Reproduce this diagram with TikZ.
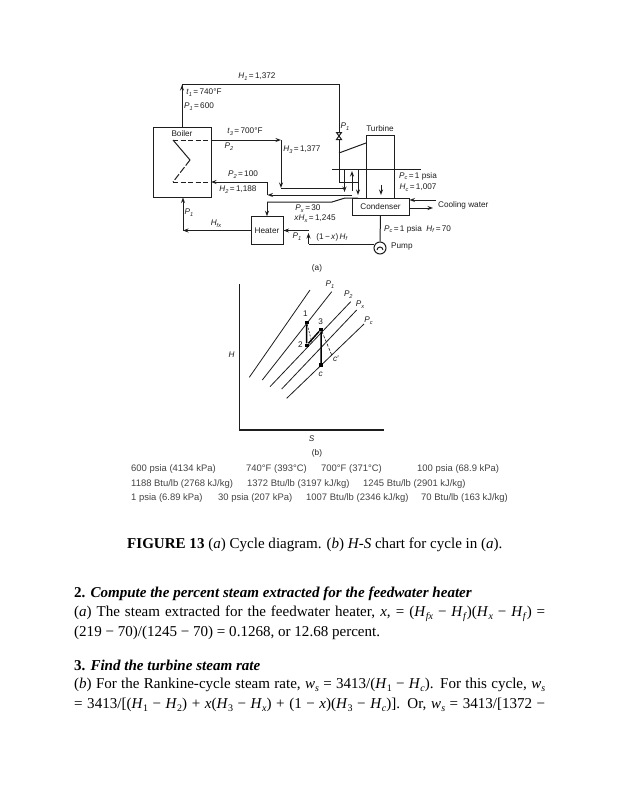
\documentclass[tikz,border=0pt]{standalone}
\usepackage{fontspec}
\setmainfont{Liberation Serif}
\newfontfamily\lab{Liberation Sans}
\usetikzlibrary{arrows.meta}
\definecolor{ink}{HTML}{1E1E1E}
\definecolor{tabink}{HTML}{444444}
\newcommand{\sbs}[2]{\textit{#1}\raisebox{-0.22em}{\fontsize{5.6}{6}\selectfont\textit{#2}}}
\newcommand{\bsub}[1]{\raisebox{-0.25em}{\fontsize{10}{10}\selectfont #1}}
\newcommand{\bisub}[1]{\raisebox{-0.25em}{\fontsize{10}{10}\selectfont\textit{#1}}}
\newcommand{\fit}[1]{\makebox[471pt][s]{#1}}
\newcommand{\eq}{\,=\,}
\tikzset{
  x=1pt,y=-1pt,
  pipe/.style={draw=ink,line width=1pt},
  flow/.style={pipe,-{Stealth[length=5.5pt,width=4pt]}},
  thin line/.style={draw=ink,line width=0.8pt},
  equip/.style={draw=ink,line width=1pt,fill=white,inner sep=0pt},
  tag/.style={font=\lab\fontsize{8.2}{9}\selectfont,text=ink,inner sep=0pt},
  tablerow/.style={font=\lab\fontsize{9.45}{10}\selectfont,text=tabink,inner sep=0pt,anchor=base west},
  body/.style={font=\fontsize{15.05}{16}\selectfont,text=black,inner sep=0pt,anchor=base west},
  dot/.style={fill=black,inner sep=0pt,minimum size=3.6pt},
}
\begin{document}
\begin{tikzpicture}
\useasboundingbox[fill=white] (0,0) rectangle (617,800);
% equipment
\node[equip,minimum width=58pt,minimum height=70pt] (boiler) at (182,162) {};
\node[equip,minimum width=28pt,minimum height=63pt] (turbine) at (380,166.5) {};
\node[equip,minimum width=57pt,minimum height=17pt] (condenser) at (380.5,206.5) {};
\node[equip,minimum width=32pt,minimum height=27.5pt] (heater) at (267,230.5) {};
\node[equip,circle,minimum size=12pt] (pump) at (380,248) {};
\node[tag] (boilerlab) at (182,134) {Boiler};
\node[tag] (turbinelab) at (380,128.5) {Turbine};
\node[tag] (condlab) at (380.5,206.5) {Condenser};
\node[tag] (heaterlab) at (267,230.5) {Heater};
\node[tag,anchor=west] (pumplab) at (391,247) {Pump};
\node[tag,anchor=west] (coollab) at (438,205) {Cooling water};
% junctions
\coordinate (upA) at (182,84);
\coordinate (upB) at (339,84);
\coordinate (tap) at (339,153);
\coordinate (tin) at (366,143);
\coordinate (v) at (339,136);
\coordinate (c1) at (173,140);
\coordinate (c2) at (190,160);
\coordinate (c3) at (173,182);
\coordinate (b1) at (211,140);
\coordinate (b2) at (211,182);
\coordinate (r1) at (281,140);
\coordinate (r2) at (281,188);
\coordinate (r3) at (345,188);
\coordinate (e1) at (267.5,182);
\coordinate (e2) at (267.5,195);
\coordinate (e3) at (352,195);
\coordinate (h1) at (267,202);
\coordinate (h2) at (332,202);
\coordinate (h3) at (345,198);
\coordinate (h4) at (358,198);
\coordinate (bar1) at (332,169);
\coordinate (bar2) at (421,169);
% main steam
\draw[pipe] (boiler.north -| upA) -- (upA);
\draw[flow] (182,108) -- (182,85);
\draw[pipe] (upA) -- (upB) -- (v);
\draw[pipe] (v) -- (339,182);
\draw[pipe] (tap) -- (tin);
\draw[pipe,fill=white] (336.5,132.5) -- (341.5,132.5) -- (336.5,139.5) -- (341.5,139.5) -- cycle;
% manifold
\draw[thin line] (bar1) -- (bar2);
\draw[pipe] (339,182) -- (358,182);
\draw[flow] (344.5,169) -- (344.5,192);
\draw[flow] (352,191) -- (352,171);
\draw[flow] (358,169) -- (358,195);
% coil
\draw[pipe,dash pattern=on 5pt off 2.5pt] (c1) -- (b1);
\draw[pipe] (c1) -- (c2);
\draw[pipe,dash pattern=on 7pt off 2pt] (c2) -- (c3);
\draw[pipe,dash pattern=on 5pt off 2.5pt] (c3) -- (b2);
% reheat lines
\draw[flow] (b1) -- (r1);
\draw[flow] (r1) -- (r2);
\draw[pipe] (r2) -- (r3);
\draw[flow] (e1) -- (b2);
\draw[pipe] (e1) -- (e2);
\draw[flow] (e3) -- (e2);
% extraction
\draw[pipe] (h4) -- (h3) -- (h2) -- (h1);
\draw[flow] (h1) -- (heater.north -| h1);
% feedwater
\coordinate (f1) at (183,230.5);
\draw[flow] (heater.west) -- (f1);
\draw[flow] (f1) -- (boiler.south -| f1);
\coordinate (p1) at (308.5,244);
\coordinate (p2) at (308.5,230.5);
\draw[pipe] (pump.west |- p1) -- (p1);
\draw[flow] (p1) -- (308.5,233);
\draw[flow] (p2) -- (heater.east);
% condenser and turbine internals
\draw[pipe] (condenser.south) -- (pump.north);
\draw[flow] (381,185) -- (381,195);
\draw[flow] (436,200) -- (condenser.east |- 436,200);
\draw[flow] (condenser.east |- 433,208) -- (433,208);
\draw[pipe] (377,250) arc[start angle=180,end angle=360,radius=3];
% labels
\node[tag] (l1) at (257,77) {\sbs{H}{1}\eq 1,372};
\node[tag] (l2) at (204,93) {\sbs{t}{1}\eq 740°F};
\node[tag] (l3) at (199,107) {\sbs{P}{1}\eq 600};
\node[tag] (l4) at (245,132) {\sbs{t}{3}\eq 700°F};
\node[tag] (l5) at (229,147) {\sbs{P}{2}};
\node[tag] (l6) at (302,150) {\sbs{H}{3}\eq 1,377};
\node[tag] (l7) at (243,175) {\sbs{P}{2}\eq 100};
\node[tag] (l8) at (238,190) {\sbs{H}{2}\eq 1,188};
\node[tag] (l9) at (189,213) {\sbs{P}{1}};
\node[tag] (l10) at (216,224) {\sbs{H}{fx}};
\node[tag] (l11) at (308,209) {\sbs{P}{x}\eq 30};
\node[tag] (l12) at (315,219) {\textit{x}\sbs{H}{x}\eq 1,245};
\node[tag] (l13) at (297,237) {\sbs{P}{1}};
\node[tag] (l14) at (332,237) {(1\,−\,\textit{x})\,\sbs{H}{f}};
\node[tag] (l15) at (345,127) {\sbs{P}{1}};
\node[tag,anchor=west] (l16) at (399,176) {\sbs{P}{c}\eq 1 psia};
\node[tag,anchor=west] (l17) at (399.5,188) {\sbs{H}{c}\eq 1,007};
\node[tag,anchor=west] (l18) at (384,229) {\sbs{P}{c}\eq 1 psia\ \ \sbs{H}{f}\eq 70};
\node[tag] (capa) at (317,268) {(a)};
% chart
\coordinate (o) at (239.3,430);
\coordinate (ytop) at (239.3,284);
\coordinate (xend) at (384,430);
\draw[draw=ink,line width=1.1pt] (ytop) -- (o) -- (xend);
\foreach \a/\b/\c/\d in {249.3/377.3/310/290, 262.3/380/331.7/291.7, 270/386.7/350.7/301.7, 281.7/389/356.7/310, 286.7/398.3/364/324}
  \draw[thin line] (\a,\b) -- (\c,\d);
\node[dot] (n1) at (306.7,322.3) {};
\node[dot] (n2) at (306.7,345.3) {};
\node[dot] (n3) at (321,329.3) {};
\node[dot] (nc) at (321,365) {};
\coordinate (d1) at (311.7,341.7);
\coordinate (cp) at (331.7,355);
\draw[draw=black,line width=1.5pt] (n1) -- (n2) -- (n3) -- (nc);
\draw[draw=ink,line width=0.6pt,dash pattern=on 2pt off 1.5pt] (n1) -- (d1);
\draw[draw=ink,line width=0.6pt,dash pattern=on 3pt off 1.5pt] (n3) -- (cp);
\node[tag] (t1) at (305.5,314) {1};
\node[tag] (t2) at (300.3,345) {2};
\node[tag] (t3) at (320.7,321.7) {3};
\node[tag] (tc) at (320.7,374) {\textit{c}};
\node[tag] (tcp) at (336,358.5) {\textit{c}′};
\node[tag] (tH) at (231.7,355) {\textit{H}};
\node[tag] (tS) at (311.7,439) {\textit{S}};
\node[tag] (tb) at (317,453) {(b)};
\node[tag] (tp1) at (330,285) {\sbs{P}{1}};
\node[tag] (tp2) at (348.3,295) {\sbs{P}{2}};
\node[tag] (tpx) at (360,304.5) {\sbs{P}{x}};
\node[tag] (tpc) at (368.5,320.5) {\sbs{P}{c}};
% table
\node[tablerow] (a1) at (131,471) {600 psia (4134 kPa)};
\node[tablerow] (a2) at (246,471) {740°F (393°C)};
\node[tablerow] (a3) at (321,471) {700°F (371°C)};
\node[tablerow] (a4) at (417,471) {100 psia (68.9 kPa)};
\node[tablerow] (b1t) at (131,486) {1188 Btu/lb (2768 kJ/kg)};
\node[tablerow] (b2t) at (247,486) {1372 Btu/lb (3197 kJ/kg)};
\node[tablerow] (b3t) at (363,486) {1245 Btu/lb (2901 kJ/kg)};
\node[tablerow] (c1t) at (131,500) {1 psia (6.89 kPa)};
\node[tablerow] (c2t) at (218,500) {30 psia (207 kPa)};
\node[tablerow] (c3t) at (306,500) {1007 Btu/lb (2346 kJ/kg)};
\node[tablerow] (c4t) at (421,500) {70 Btu/lb (163 kJ/kg)};
% body
\node[body] (cap) at (127,548) {\textbf{FIGURE 13} (\textit{a}) Cycle diagram. (\textit{b}) \textit{H-S} chart for cycle in (\textit{a}).};
\node[body] (s2) at (74,597) {\textbf{2. \textit{Compute the percent steam extracted for the feedwater heater}}};
\node[body] (s2a) at (74,616) {\fit{(\textit{a}) The steam extracted for the feedwater heater, \textit{x}, = (\textit{H}\bisub{fx} − \textit{H}\bisub{f})(\textit{H}\bisub{x} − \textit{H}\bisub{f}) =}};
\node[body] (s2b) at (74,636) {(219 − 70)/(1245 − 70) = 0.1268, or 12.68 percent.};
\node[body] (s3) at (74,670) {\textbf{3. \textit{Find the turbine steam rate}}};
\node[body] (s3a) at (74,688) {\fit{(\textit{b}) For the Rankine-cycle steam rate, \textit{w}\bisub{s} = 3413/(\textit{H}\bsub{1} − \textit{H}\bisub{c}). For this cycle, \textit{w}\bisub{s}}};
\node[body] (s3b) at (74,708) {\fit{= 3413/[(\textit{H}\bsub{1} − \textit{H}\bsub{2}) + \textit{x}(\textit{H}\bsub{3} − \textit{H}\bisub{x}) + (1 − \textit{x})(\textit{H}\bsub{3} − \textit{H}\bisub{c})]. Or, \textit{w}\bisub{s} = 3413/[1372 −}};
\end{tikzpicture}
\end{document}
